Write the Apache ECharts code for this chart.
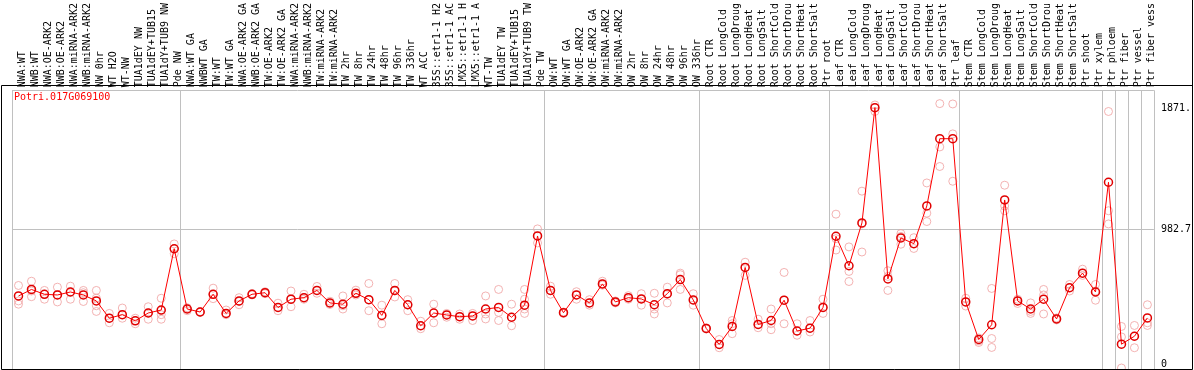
<!DOCTYPE html>
<html>
<head>
<meta charset="utf-8">
<script src="https://cdn.jsdelivr.net/npm/echarts@6/dist/echarts.min.js"></script>
<style>
html,body{margin:0;padding:0;background:#fff;}
#chart{width:1194px;height:370px;}
</style>
</head>
<body>
<div id="chart"></div>
<script>
const title = 'Potri.017G069100';

const categories = [
  'NWA:WT','NWB:WT','NWA:OE-ARK2','NWB:OE-ARK2','NWA:miRNA-ARK2','NWB:miRNA-ARK2','NW 0hr','WT H2O','WT-NW','TUA1dEY NW','TUA1dEY+TUB15','TUA1dY+TUB9 NW','Pde NW',
  'NWA:WT GA','NWBWT GA','TW:WT','TW:WT GA','NWA:OE-ARK2 GA','NWB:OE-ARK2 GA','TW:OE-ARK2','TW:OE-ARK2 GA','NWA:miRNA-ARK2','NWB:miRNA-ARK2','TW:miRNA-ARK2','TW:miRNA-ARK2 ','TW 2hr','TW 8hr','TW 24hr','TW 48hr','TW 96hr','TW 336hr','WT ACC','35S::etr1-1 H2','35S::etr1-1 AC','LMX5::etr1-1 H','LMX5::etr1-1 A','WT-TW','TUA1dEY TW','TUA1dEY+TUB15 ','TUA1dY+TUB9 TW','Pde TW',
  'OW:WT','OW:WT GA','OW:OE-ARK2','OW:OE-ARK2 GA','OW:miRNA-ARK2','OW:miRNA-ARK2 ','OW 2hr','OW 8hr','OW 24hr','OW 48hr','OW 96hr','OW 336hr',
  'Root CTR','Root LongCold','Root LongDroug','Root LongHeat','Root LongSalt','Root ShortCold','Root ShortDrou','Root ShortHeat','Root ShortSalt','Ptr root',
  'Leaf CTR','Leaf LongCold','Leaf LongDroug','Leaf LongHeat','Leaf LongSalt','Leaf ShortCold','Leaf ShortDrou','Leaf ShortHeat','Leaf ShortSalt','Ptr leaf',
  'Stem CTR','Stem LongCold','Stem LongDroug','Stem LongHeat','Stem LongSalt','Stem ShortCold','Stem ShortDrou','Stem ShortHeat','Stem ShortSalt','Ptr shoot','Ptr xylem','Ptr phloem','Ptr fiber','Ptr vessel','Ptr fiber vess'
];

// index of first category of each separated group
const groupStarts = [0, 13, 41, 53, 63, 73, 84, 85, 86, 87];

const meanValues = [
  515,561,527,522,543,522,480,358,383,340,395,416,848,
  423,402,527,392,480,527,538,434,492,503,554,466,457,534,489,378,554,453,305,395,381,369,374,423,434,365,450,938,
  554,397,522,466,600,473,503,494,453,531,631,487,
  286,173,300,716,314,342,485,268,288,434,
  936,728,1030,1843,635,924,884,1150,1624,1624,
  473,208,312,1192,480,423,492,353,573,676,543,1317,175,231,360
];

const replicateValues = [
  [589,480,457],[619,550,510],[554,527,492],[577,522,473],[584,543,492],[554,538,476],[554,500,446,406],[392,358,326],[430,383,358],[358,340,319],[439,395,351],[499,411,383,351],[882,848,813],
  [432,425,411],[405,402,399],[570,527,496],[416,392,383],[503,476,453],[532,527,522],[545,538,531],[464,434,411],[550,492,439],[527,503,492],[582,554,534],[478,466,455],[515,446,423],[556,534,522],[603,489,411],[450,378,319],[603,550,508],[489,453,411],[337,305,284],[457,395,326],[392,381,365],[388,369,351],[392,374,342],[515,388,353],[561,399,342],[457,365,305],[561,492,423,392],[988,938,889],
  [584,554,527],[402,397,392],[545,522,492],[489,466,450],[619,600,591],[480,473,466],[517,503,492],[531,494,450],[534,423,388],[577,527,466],[676,665,561],[531,487,450],
  [290,286,282],[208,173,150],[342,319,249],[753,716,660],[351,314,291],[423,319,277],[681,485,319],[319,268,238],[342,288,261],[492,434,392],
  [1092,919,839],[861,688,617],[1254,1023,825],[1862,1843,1816],[693,653,554],[955,935,880],[926,884,850],[1312,1099,1040],[1871.4,1566,1428],[1869,1658,1324],
  [499,473,444],[219,198,187],[568,215,152],[1296,1150,1116],[492,480,462],[466,406,392],[561,522,388],[360,353,346],[596,573,550],[704,676,660],[596,550,485],[1816,1116,1023],[300,226,7],[307,231,150],[453,326,307]
];

const yMax = 1965.4;
const yTickValues = [0, 982.7, 1871.4];
const yTickLabels = ['0', '982.7', '1871.'];

const FONT = 'DejaVu Sans Mono';
const isGroupStart = (i) => groupStarts.indexOf(i) >= 0;
const fmt = (v) => { const k = yTickValues.indexOf(v); return k >= 0 ? yTickLabels[k] : ''; };

const repPoints = [];
replicateValues.forEach((arr, i) => arr.forEach(v => repPoints.push([i, v])));

function yAx(values, align, showSplit) {
  return {
    type: 'value', position: 'right', min: 0, max: yMax, interval: yMax / 2,
    axisLine: {show: false}, axisTick: {show: false},
    splitLine: {show: showSplit, lineStyle: {color: '#c0c0c0', width: 1}},
    axisLabel: {customValues: values, formatter: fmt, margin: 7, verticalAlign: align,
      fontFamily: FONT, fontSize: 10, color: '#000'}
  };
}

const chart = echarts.init(document.getElementById('chart'), null, {renderer: 'canvas'});
chart.setOption({
  animation: false,
  backgroundColor: '#fff',
  title: {text: title, left: 9, top: 87,
    textStyle: {fontFamily: FONT, fontSize: 10, fontWeight: 'normal', color: '#ff0000'}},
  grid: {left: 12, top: 86, width: 1144, height: 283, containLabel: false},
  xAxis: {
    type: 'category', position: 'top', data: categories, boundaryGap: true,
    axisLine: {show: false},
    axisTick: {show: true, interval: isGroupStart, length: 86, lineStyle: {color: '#c0c0c0', width: 1}},
    splitLine: {show: true, interval: isGroupStart, lineStyle: {color: '#c0c0c0', width: 1}},
    axisLabel: {interval: 0, rotate: 90, margin: 3, verticalAlign: 'top', lineHeight: 8,
      fontFamily: FONT, fontSize: 10, color: '#000'}
  },
  yAxis: [
    yAx([yTickValues[1]], 'middle', true),
    yAx([yTickValues[2]], 'top', false),
    yAx([yTickValues[0]], 'bottom', false)
  ],
  series: [
    {
      type: 'scatter', data: repPoints, yAxisIndex: 0, symbol: 'circle', symbolSize: 8,
      itemStyle: {color: 'rgba(0,0,0,0)', borderColor: '#f0a0a0', borderWidth: 1},
      emphasis: {disabled: true}, silent: true, z: 2
    },
    {
      type: 'line', data: meanValues, yAxisIndex: 0, symbol: 'circle', symbolSize: 8,
      lineStyle: {color: '#ff0000', width: 1},
      itemStyle: {color: 'rgba(0,0,0,0)', borderColor: '#e00000', borderWidth: 1.5},
      emphasis: {disabled: true}, silent: true, z: 3
    }
  ],
  graphic: [
    {type: 'rect', silent: true, z: 100,
      shape: {x: 1.5, y: 85.5, width: 1191, height: 284},
      style: {fill: 'none', stroke: '#000', lineWidth: 1}},
    {type: 'line', silent: true, z: 100,
      shape: {x1: 1192.5, y1: 0, x2: 1192.5, y2: 86},
      style: {stroke: '#000', lineWidth: 1}}
  ]
});
</script>
</body>
</html>
